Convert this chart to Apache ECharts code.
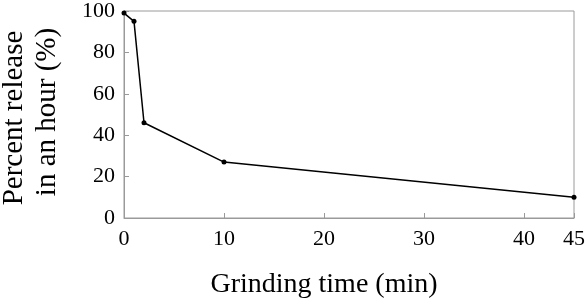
<!DOCTYPE html>
<html>
<head>
<meta charset="utf-8">
<script src="https://cdn.jsdelivr.net/npm/echarts@6/dist/echarts.min.js"></script>
<style>
  html, body { margin: 0; padding: 0; background: #fff; }
  #chart { width: 588px; height: 303px; }
</style>
</head>
<body>
<div id="chart"></div>
<script>
// grinding time (min) and percent released in an hour
const grindTimes = [0, 1, 2, 10, 45];
const releasePct = [99, 95, 46, 27, 10];

const font = 'Liberation Serif';
const axisGray = '#9a9a9a';

const chart = echarts.init(document.getElementById('chart'), null, { renderer: 'canvas' });

chart.setOption({
  animation: false,
  grid: {
    left: 124,
    right: 9,
    top: 10,
    bottom: 85,
    show: true,
    borderColor: axisGray,
    borderWidth: 1,
  },
  xAxis: {
    type: 'value',
    min: 0,
    max: 45,
    interval: 10,
    axisLine: { show: true, lineStyle: { color: axisGray, width: 1 } },
    axisTick: { show: true, inside: true, length: 5, lineStyle: { color: axisGray } },
    splitLine: { show: false },
    axisLabel: { color: '#000', fontFamily: font, fontSize: 22, margin: 10 },
  },
  yAxis: {
    type: 'value',
    min: 0,
    max: 100,
    interval: 20,
    axisLine: { show: true, lineStyle: { color: axisGray, width: 1 } },
    axisTick: { show: true, inside: true, length: 5, lineStyle: { color: axisGray } },
    splitLine: { show: false },
    axisLabel: { color: '#000', fontFamily: font, fontSize: 22, margin: 9 },
  },
  graphic: [
    {
      type: 'text',
      x: 324,
      y: 285,
      style: {
        text: 'Grinding time (min)',
        font: '28px "Liberation Serif"',
        fill: '#000',
        textAlign: 'center',
        textVerticalAlign: 'middle',
      },
    },
    {
      type: 'text',
      x: 14,
      y: 118,
      rotation: Math.PI / 2,
      style: {
        text: 'Percent release',
        font: '29px "Liberation Serif"',
        fill: '#000',
        textAlign: 'center',
        textVerticalAlign: 'middle',
      },
    },
    {
      type: 'text',
      x: 47,
      y: 112,
      rotation: Math.PI / 2,
      style: {
        text: 'in an hour (%)',
        font: '29px "Liberation Serif"',
        fill: '#000',
        textAlign: 'center',
        textVerticalAlign: 'middle',
      },
    },
  ],
  series: [
    {
      type: 'line',
      data: grindTimes.map((t, i) => [t, releasePct[i]]),
      symbol: 'circle',
      symbolSize: 5,
      itemStyle: { color: '#000' },
      lineStyle: { color: '#000', width: 1.5 },
    },
  ],
});
</script>
</body>
</html>
